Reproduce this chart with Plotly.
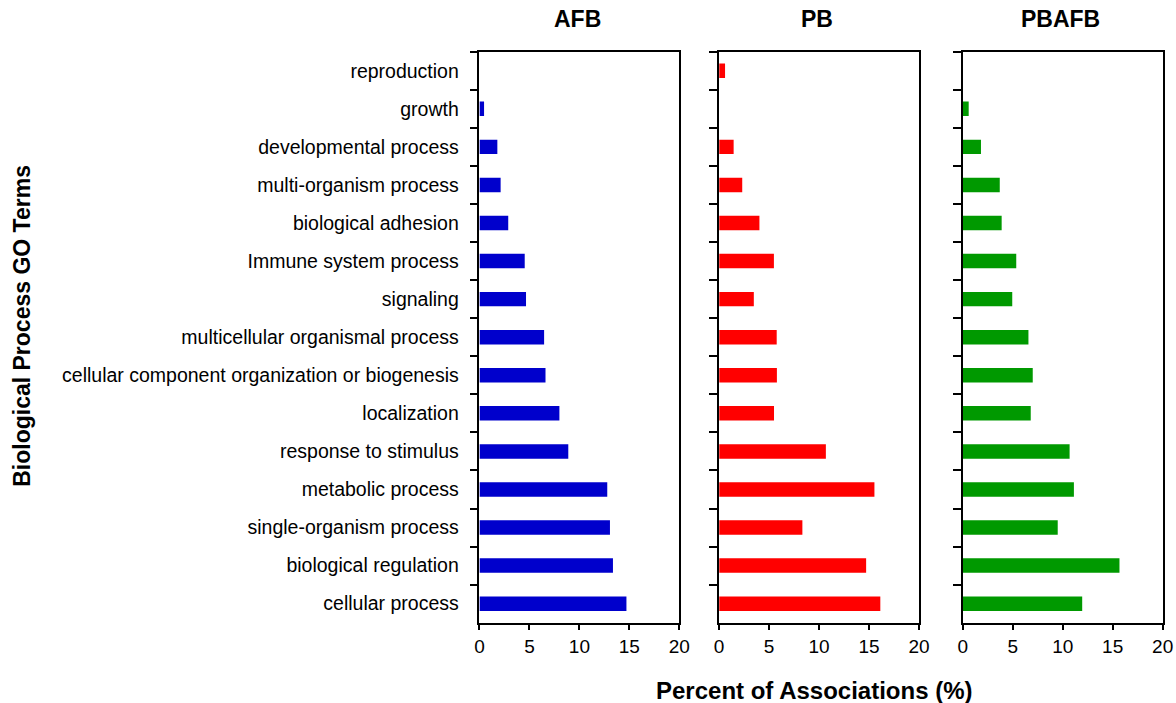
import plotly.graph_objects as go

categories = [
    "reproduction", "growth", "developmental process", "multi-organism process",
    "biological adhesion", "Immune system process", "signaling",
    "multicellular organismal process", "cellular component organization or biogenesis",
    "localization", "response to stimulus", "metabolic process",
    "single-organism process", "biological regulation", "cellular process",
]
afb = [0, 0.46, 1.79, 2.12, 2.88, 4.53, 4.66, 6.47, 6.61, 8.0, 8.89, 12.79, 13.06, 13.36, 14.71]
pb = [0.59, 0, 1.45, 2.31, 4.03, 5.48, 3.47, 5.76, 5.78, 5.49, 10.68, 15.54, 8.33, 14.71, 16.13]
pbafb = [0, 0.59, 1.82, 3.70, 3.89, 5.35, 4.95, 6.57, 7.0, 6.8, 10.69, 11.12, 9.5, 15.68, 11.95]
panel_titles = ["AFB", "PB", "PBAFB"]
colors = ["#0000CC", "#FF0000", "#009900"]
x_ticks = [0, 5, 10, 15, 20]

W, H = 1176, 703
FONT = "Liberation Sans, Arial, sans-serif"

x_px = [(481.0, 683.6), (724.0, 926.6), (971.0, 1173.6)]
y_top, y_bot = 51.7, 622.7
ydom = [1 - y_bot / H, 1 - y_top / H]

fig = go.Figure()
series = [afb, pb, pbafb]
for i, (vals, col) in enumerate(zip(series, colors)):
    sfx = "" if i == 0 else str(i + 1)
    fig.add_trace(go.Bar(
        x=vals, y=categories, orientation="h", marker=dict(color=col, line=dict(width=0)),
        width=0.38, xaxis="x" + sfx, yaxis="y" + sfx, showlegend=False,
    ))

layout = dict(
    width=W, height=H, margin=dict(l=0, r=0, t=0, b=0),
    plot_bgcolor="white", paper_bgcolor="white",
    font=dict(family=FONT, color="black"),
)
for i in range(3):
    sfx = "" if i == 0 else str(i + 1)
    x0, x1 = x_px[i]
    layout["xaxis" + sfx] = dict(
        domain=[x0 / W, x1 / W], range=[0, 20], tickvals=x_ticks,
        showline=True, linecolor="black", linewidth=1.5, mirror=True,
        ticks="outside", ticklen=6, tickwidth=1.5, tickcolor="black",
        showgrid=False, zeroline=False, anchor="y" + sfx,
        tickfont=dict(size=19, family=FONT, color="black"),
        fixedrange=True,
    )
    layout["yaxis" + sfx] = dict(
        domain=ydom, type="category", categoryorder="array",
        categoryarray=categories, autorange="reversed",
        showline=True, linecolor="black", linewidth=1.5, mirror=True,
        ticks="outside", ticklen=8, tickwidth=1.5, tickcolor="black",
        tickson="boundaries", showgrid=False, zeroline=False,
        anchor="x" + sfx, showticklabels=(i == 0),
        tickfont=dict(size=19.5, family=FONT, color="black"),
        ticklabelstandoff=15, fixedrange=True,
    )
fig.update_layout(**layout)

annotations = []
for i, t in enumerate(panel_titles):
    x0, x1 = x_px[i]
    annotations.append(dict(
        text="<b>%s</b>" % t, x=(x0 + x1) / 2 / W - 2 / W, y=1 - 19 / H,
        xref="paper", yref="paper", showarrow=False,
        xanchor="center", yanchor="middle", font=dict(size=23, family=FONT, color="black"),
    ))
annotations.append(dict(
    text="<b>Percent of Associations (%)</b>", x=821 / W, y=1 - 690 / H,
    xref="paper", yref="paper", showarrow=False, xanchor="center", yanchor="middle",
    font=dict(size=24, family=FONT, color="black"),
))
annotations.append(dict(
    text="<b>Biological Process GO Terms</b>", x=17 / W, y=1 - 326 / H,
    xref="paper", yref="paper", showarrow=False, xanchor="center", yanchor="middle",
    textangle=-90, font=dict(size=23, family=FONT, color="black"),
))
fig.update_layout(annotations=annotations)

fig.write_html(
    "out.html",
    config={"responsive": False, "displayModeBar": False},
    post_script="document.body.style.margin='0';document.body.style.overflow='hidden';",
)
